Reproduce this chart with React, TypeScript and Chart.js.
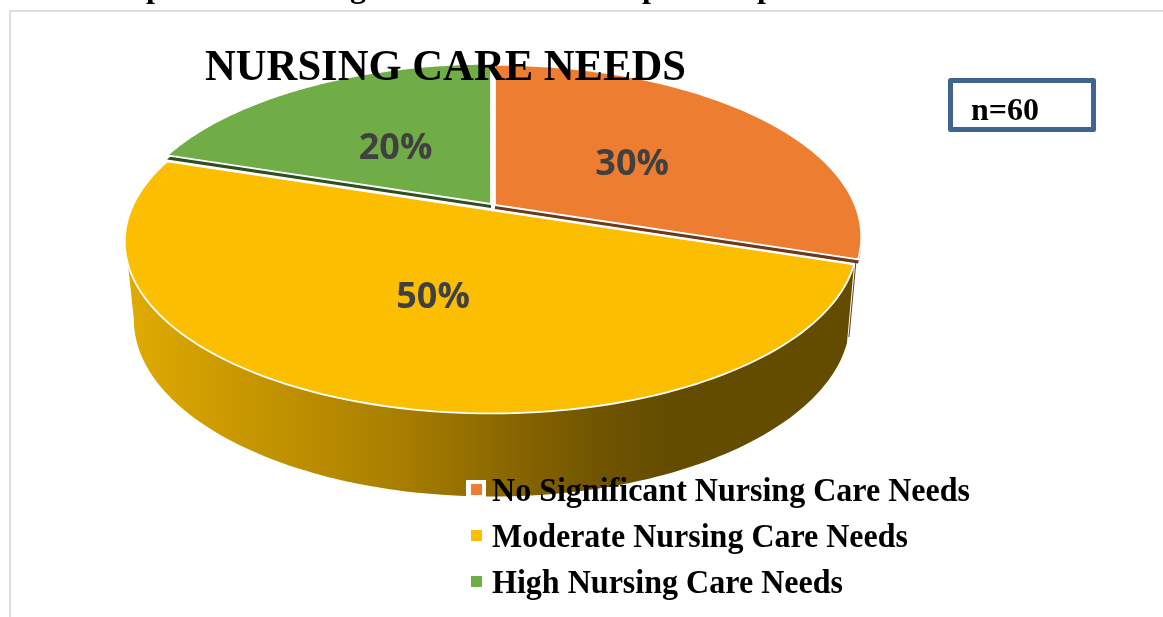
import React, { useEffect, useRef } from "react";
import { Chart, registerables } from "chart.js";

Chart.register(...registerables);

const categories = ["No Significant Nursing Care Needs", "Moderate Nursing Care Needs", "High Nursing Care Needs"];
const values = [30, 50, 20];
const sliceColors = ["#ED7D31", "#FBBE00", "#70AD47"];
const seamColors = ["#6B3A1E", "", "#2F4F22"];
const titleText = "NURSING CARE NEEDS";
const sampleText = "n=60";
const SERIF = '"Liberation Serif", serif';

const top = { x0: 492, y0: 207, a: 360, b: 166, c: -0.184 };
const bottom = { x0: 492, y0: 287, a: 352, b: 171, c: -0.184 };
const offsets = [[3, -2], [-1, 3], [-1, -3]];

type Proj = typeof top;
const project = (p: Proj, u: number, v: number): [number, number] => {
  const w = 1 + p.c * v;
  return [p.x0 + (p.a * u) / w, p.y0 + (p.b * v) / w];
};
const onRim = (p: Proj, angle: number) => project(p, Math.cos(angle), Math.sin(angle));

function slicePath(ctx: CanvasRenderingContext2D, s: number, e: number, dx: number, dy: number) {
  ctx.beginPath();
  const [ax, ay] = project(top, 0, 0);
  ctx.moveTo(ax + dx, ay + dy);
  const n = 120;
  for (let i = 0; i <= n; i++) {
    const [x, y] = onRim(top, s + ((e - s) * i) / n);
    ctx.lineTo(x + dx, y + dy);
  }
  ctx.closePath();
}

function fitText(ctx: CanvasRenderingContext2D, t: string, x: number, y: number, width: number) {
  const m = ctx.measureText(t).width;
  ctx.save();
  ctx.translate(x, y);
  ctx.scale(width / m, 1);
  ctx.fillText(t, 0, 0);
  ctx.restore();
}

const pie3d = {
  id: "pie3d",
  afterDatasetUpdate(chart: any) {
    const arcs = chart.getDatasetMeta(0).data;
    arcs.forEach((arc: any, i: number) => {
      arc.draw = function (ctx: CanvasRenderingContext2D) {
        const [dx, dy] = offsets[i];
        slicePath(ctx, this.startAngle, this.endAngle, dx, dy);
        ctx.fillStyle = this.options.backgroundColor;
        ctx.fill();
        ctx.strokeStyle = "#FFFFFF";
        ctx.lineWidth = 1.8;
        ctx.lineJoin = "round";
        ctx.stroke();
      };
    });
  },
  beforeDatasetsDraw(chart: any) {
    const ctx: CanvasRenderingContext2D = chart.ctx;
    const arcs = chart.getDatasetMeta(0).data;
    const yellow = arcs[1];
    const [ox, oy] = offsets[1];
    const startA = yellow.startAngle;
    const grad = ctx.createLinearGradient(134, 0, 850, 0);
    grad.addColorStop(0, "#DEA900");
    grad.addColorStop(0.37, "#A87E00");
    grad.addColorStop(0.65, "#705400");
    grad.addColorStop(0.75, "#634C00");
    grad.addColorStop(1, "#634C00");

    // thin outer wall sliver of the orange slice
    const tip = onRim(top, startA);
    const foot = onRim(bottom, startA);
    ctx.strokeStyle = seamColors[0];
    ctx.lineWidth = 1;
    ctx.beginPath();
    ctx.moveTo(tip[0] + 1, tip[1] - 1);
    ctx.lineTo(foot[0] + 2, foot[1] - 6);
    ctx.stroke();

    // front wall of the yellow slice
    const topEnd = (162 * Math.PI) / 180;
    const botEnd = (169.4 * Math.PI) / 180;
    ctx.beginPath();
    const n = 120;
    for (let i = 0; i <= n; i++) {
      const [x, y] = onRim(top, startA + ((topEnd - startA) * i) / n);
      if (i === 0) ctx.moveTo(x + ox, y + oy);
      else ctx.lineTo(x + ox, y + oy);
    }
    for (let i = n; i >= 0; i--) {
      const [x, y] = onRim(bottom, startA + ((botEnd - startA) * i) / n);
      ctx.lineTo(x, y);
    }
    ctx.closePath();
    ctx.fillStyle = grad;
    ctx.fill();

    // inner cut faces under the orange and green slices
    [0, 2].forEach((i) => {
      const [dx, dy] = offsets[i];
      slicePath(ctx, arcs[i].startAngle, arcs[i].endAngle, dx, dy + 4);
      ctx.fillStyle = seamColors[i];
      ctx.fill();
    });
  },
  afterDatasetsDraw(chart: any) {
    const ctx: CanvasRenderingContext2D = chart.ctx;
    const arcs = chart.getDatasetMeta(0).data;
    const total = values.reduce((a, b) => a + b, 0);

    // data labels
    ctx.save();
    ctx.font = 'bold 36px "Open Sans", sans-serif';
    ctx.fillStyle = "#404040";
    ctx.textAlign = "center";
    ctx.textBaseline = "middle";
    arcs.forEach((arc: any, i: number) => {
      const m = (arc.startAngle + arc.endAngle) / 2;
      const [x, y] = project(top, 0.5 * Math.cos(m), 0.5 * Math.sin(m));
      ctx.fillText(`${Math.round((values[i] / total) * 100)}%`, x + 2, y + 4);
    });
    ctx.restore();

    // frame and clipped text above it
    ctx.save();
    ctx.fillStyle = "#DEDEDE";
    ctx.fillRect(9, 10, 1154, 2);
    ctx.fillRect(9, 10, 2, 607);
    ctx.fillStyle = "#000000";
    ctx.font = `bold 32px ${SERIF}`;
    ctx.textAlign = "left";
    ctx.textBaseline = "alphabetic";
    ctx.fillText("p", 146, -3);
    ctx.fillText("g", 350, -3);
    ctx.fillText("p", 642, -3);
    ctx.fillText("p", 757, -3);

    // title
    ctx.font = `bold 45px ${SERIF}`;
    fitText(ctx, titleText, 205, 80, 481);

    // n box
    ctx.fillStyle = "#FFFFFF";
    ctx.fillRect(948, 78, 148, 54);
    ctx.strokeStyle = "#41648F";
    ctx.lineWidth = 5;
    ctx.strokeRect(950.5, 80.5, 143, 49);
    ctx.fillStyle = "#000000";
    ctx.font = `bold 31px ${SERIF}`;
    fitText(ctx, sampleText, 971, 120, 68);

    // legend
    const widths = [478, 416, 351];
    const baselines = [501, 547, 593];
    ctx.fillStyle = "#FFFFFF";
    ctx.fillRect(466, 480, 20, 20);
    ctx.font = `bold 33px ${SERIF}`;
    categories.forEach((c, i) => {
      ctx.fillStyle = sliceColors[i];
      ctx.fillRect(471, baselines[i] - 17, 11, 11);
      ctx.fillStyle = "#000000";
      fitText(ctx, c, 492, baselines[i], widths[i]);
    });
    ctx.restore();
  },
};

export default function App() {
  const ref = useRef<HTMLCanvasElement>(null);
  useEffect(() => {
    const chart = new Chart(ref.current as HTMLCanvasElement, {
      type: "pie",
      data: {
        labels: categories,
        datasets: [{ data: values, backgroundColor: sliceColors, borderColor: "#FFFFFF" }],
      },
      options: {
        animation: false,
        responsive: false,
        plugins: { legend: { display: false }, title: { display: false }, tooltip: { enabled: false } },
      },
      plugins: [pie3d],
    } as any);
    return () => chart.destroy();
  }, []);
  return (
    <canvas
      ref={ref}
      width={1163}
      height={617}
      style={{ position: "absolute", left: 0, top: 0, width: 1163, height: 617, background: "#FFFFFF" }}
    />
  );
}
